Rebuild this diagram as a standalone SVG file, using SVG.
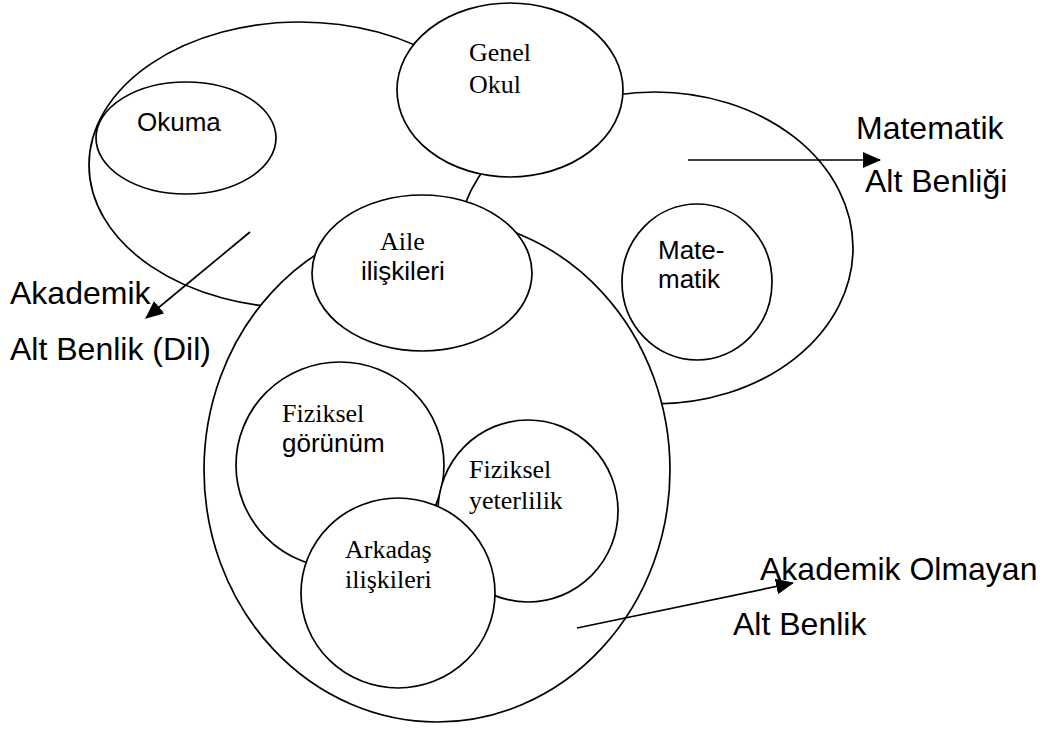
<svg xmlns="http://www.w3.org/2000/svg" width="1045" height="731" viewBox="0 0 1045 731">
<style>
.sh{fill:#fff;stroke:#000;stroke-width:1.7}
.sans{font-family:"Liberation Sans",Arial,sans-serif;font-size:26px;fill:#000}
.serif{font-family:"Liberation Serif","Times New Roman",serif;font-size:26px;fill:#000}
.lab{font-family:"Liberation Sans",Arial,sans-serif;font-size:32px;fill:#000}
.ar{stroke:#000;stroke-width:1.7;fill:none}
</style>
<defs>
<marker id="ah" markerWidth="18" markerHeight="16" refX="17" refY="8" orient="auto" markerUnits="userSpaceOnUse">
<path d="M0,0 L18,8 L0,16 z" fill="#000"/>
</marker>
</defs>
<rect width="1045" height="731" fill="#fff"/>
<g id="akademik-dil"><ellipse class="sh" cx="300" cy="165" rx="211" ry="143"/></g>
<g id="okuma"><ellipse class="sh" cx="186" cy="138" rx="90" ry="56"/><text class="sans" x="137" y="131">Okuma</text></g>
<g id="matematik-alt"><ellipse class="sh" cx="655" cy="248" rx="198" ry="156"/></g>
<g id="matematik"><ellipse class="sh" cx="697" cy="282" rx="75" ry="78"/><text class="sans" x="658" y="259">Mate-</text><text class="sans" x="658" y="288">matik</text></g>
<g id="akademik-olmayan"><ellipse class="sh" cx="437" cy="470" rx="233" ry="252"/></g>
<g id="genel-okul"><ellipse class="sh" cx="510" cy="90" rx="113" ry="87"/><text class="serif" x="469" y="61">Genel</text><text class="serif" x="469" y="93">Okul</text></g>
<g id="aile"><ellipse class="sh" cx="422" cy="273" rx="110" ry="78"/><text class="serif" x="380" y="250">Aile</text><text class="sans" x="361" y="280">ilişkileri</text></g>
<g id="fiziksel-gorunum"><ellipse class="sh" cx="340" cy="465" rx="104" ry="103"/><text class="serif" x="282" y="422">Fiziksel</text><text class="sans" x="282" y="452">görünüm</text></g>
<g id="fiziksel-yeterlilik"><ellipse class="sh" cx="528" cy="511" rx="90" ry="91"/><text class="serif" x="469" y="478">Fiziksel</text><text class="serif" x="469" y="509">yeterlilik</text></g>
<g id="arkadas"><ellipse class="sh" cx="398" cy="593" rx="97" ry="95"/><text class="serif" x="345" y="558">Arkadaş</text><text class="serif" x="345" y="588">ilişkileri</text></g>
<g id="connectors">
<line class="ar" x1="688" y1="160" x2="880" y2="160" marker-end="url(#ah)"/>
<line class="ar" x1="250" y1="232" x2="146" y2="318" marker-end="url(#ah)"/>
<line class="ar" x1="577" y1="628" x2="793" y2="583" marker-end="url(#ah)"/>
</g>
<g id="labels">
<text class="lab" x="856" y="139">Matematik</text>
<text class="lab" x="865" y="192">Alt Benliği</text>
<text class="lab" x="10" y="304">Akademik</text>
<text class="lab" x="10" y="360">Alt Benlik (Dil)</text>
<text class="lab" x="760" y="580">Akademik Olmayan</text>
<text class="lab" x="733" y="635">Alt Benlik</text>
</g>
</svg>
